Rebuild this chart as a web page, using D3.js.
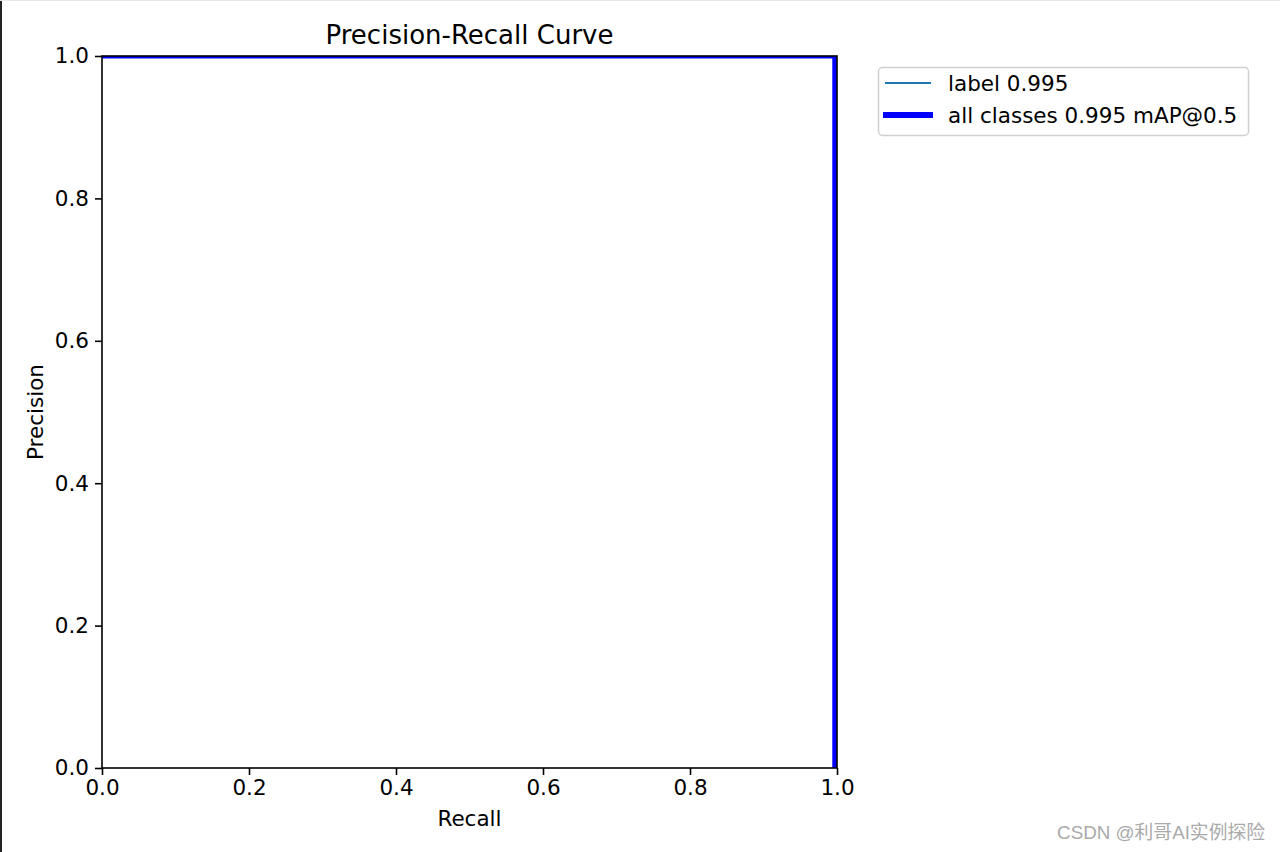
<!DOCTYPE html>
<html><head><meta charset="utf-8">
<script src="https://cdn.jsdelivr.net/npm/d3@7"></script>
<style>body{margin:0;background:#fff;} svg{display:block;}</style>
</head><body>
<svg id="c" width="1280" height="852"></svg>
<script>
// Data
const recallLabel = [0, 0.6364, 0.6364, 0.997, 0.997];
const precisionLabel = [1, 1, 0.999, 0.999, 0];
const recallAll = [0, 0.997, 0.997];
const precisionAll = [1, 1, 0];
const xTicks = [0, 0.2, 0.4, 0.6, 0.8, 1.0];
const yTicks = [0, 0.2, 0.4, 0.6, 0.8, 1.0];
const legendLabels = ["label 0.995", "all classes 0.995 mAP@0.5"];

const svg = d3.select("#c");
const font = "DejaVu Sans, sans-serif";
const L = 102, R = 837, T = 56, B = 768;
const x = d3.scaleLinear().domain([0, 1]).range([L, R]);
const y = d3.scaleLinear().domain([0, 1]).range([B, T]);

// page border artifacts
svg.append("rect").attr("x", 0).attr("y", 0).attr("width", 2).attr("height", 852).attr("fill", "#222");
svg.append("rect").attr("x", 0).attr("y", 0).attr("width", 1280).attr("height", 1).attr("fill", "#e8e8e8");

svg.append("defs").append("clipPath").attr("id", "clip")
  .append("rect").attr("x", L).attr("y", T).attr("width", R - L).attr("height", B - T);

const line = d3.line().x(d => x(d[0])).y(d => y(d[1]));
const g = svg.append("g").attr("clip-path", "url(#clip)");
g.append("path").datum(recallLabel.map((r, i) => [r, precisionLabel[i]]))
  .attr("d", line).attr("fill", "none").attr("stroke", "#1f77b4").attr("stroke-width", 2);
g.append("path").datum(recallAll.map((r, i) => [r, precisionAll[i]]))
  .attr("d", line).attr("fill", "none").attr("stroke", "#0000ff").attr("stroke-width", 5);

// axes
const xAxis = svg.append("g").attr("transform", `translate(0,${B})`)
  .call(d3.axisBottom(x).tickValues(xTicks).tickFormat(d3.format(".1f")).tickSize(7).tickPadding(5));
const yAxis = svg.append("g").attr("transform", `translate(${L},0)`)
  .call(d3.axisLeft(y).tickValues(yTicks).tickFormat(d3.format(".1f")).tickSize(7).tickPadding(6));
[xAxis, yAxis].forEach(a => {
  a.select(".domain").remove();
  a.selectAll("line").attr("stroke", "#000").attr("stroke-width", 1.6);
  a.selectAll("text").attr("font-family", font).attr("font-size", 21.5).attr("fill", "#000");
});
// spines
svg.append("rect").attr("x", L).attr("y", T).attr("width", R - L).attr("height", B - T)
  .attr("fill", "none").attr("stroke", "#000").attr("stroke-width", 1.6);

// labels
svg.append("text").attr("x", (L + R) / 2).attr("y", 44).attr("text-anchor", "middle")
  .attr("font-family", font).attr("font-size", 26).text("Precision-Recall Curve");
svg.append("text").attr("x", (L + R) / 2).attr("y", 826).attr("text-anchor", "middle")
  .attr("font-family", font).attr("font-size", 21.5).text("Recall");
svg.append("text").attr("transform", `translate(43,${(T + B) / 2}) rotate(-90)`).attr("text-anchor", "middle")
  .attr("font-family", font).attr("font-size", 21.5).text("Precision");

// legend
const lg = svg.append("g");
lg.append("rect").attr("x", 878.5).attr("y", 67.5).attr("width", 370).attr("height", 68).attr("rx", 4)
  .attr("fill", "#fff").attr("stroke", "#d0d0d0").attr("stroke-width", 1.5);
const legendStyles = [{c: "#1f77b4", w: 2, x1: 885, x2: 931}, {c: "#0000ff", w: 6, x1: 883, x2: 933}];
legendLabels.forEach((t, i) => {
  const yy = 83 + i * 32;
  lg.append("line").attr("x1", legendStyles[i].x1).attr("x2", legendStyles[i].x2).attr("y1", yy).attr("y2", yy)
    .attr("stroke", legendStyles[i].c).attr("stroke-width", legendStyles[i].w);
  lg.append("text").attr("x", 948).attr("y", yy + 8).attr("font-family", font).attr("font-size", 21.5).text(t);
});

// watermark
svg.append("text").attr("x", 1265).attr("y", 839).attr("text-anchor", "end")
  .attr("font-family", "Liberation Sans, Noto Sans CJK SC, sans-serif").attr("font-size", 18.8)
  .attr("fill", "#aaaaaa").text("CSDN @利哥AI实例探险");
</script>
</body></html>
